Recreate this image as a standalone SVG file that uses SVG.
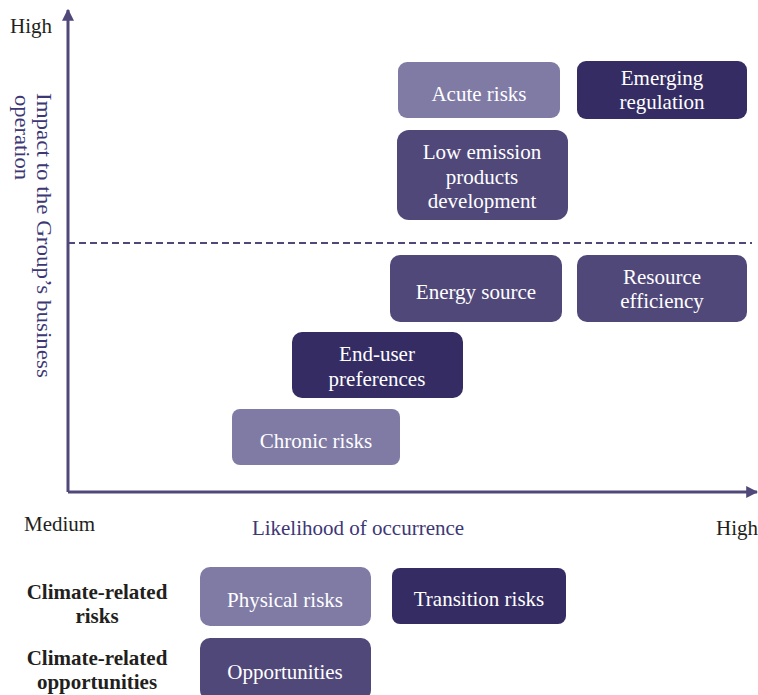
<svg xmlns="http://www.w3.org/2000/svg" width="758" height="695" viewBox="0 0 758 695">
<style>
.t{font-family:'Liberation Serif','Times New Roman',serif;font-size:21px}
.w{fill:#ffffff;text-anchor:middle}
.k{fill:#231f20}
.p{fill:#3d3775}
.b{font-weight:bold;text-anchor:middle;fill:#231f20}
.light{fill:#807ba5}
.mid{fill:#51487a}
.dark{fill:#352c63}
.ax{stroke:#51487a;stroke-width:3;fill:none}
</style>
<defs>
<marker id="ah" viewBox="0 0 10 10" refX="9" refY="5" markerWidth="4" markerHeight="4" orient="auto" markerUnits="strokeWidth">
<path d="M0,0 L10,5 L0,10 z" fill="#51487a"/>
</marker>
</defs>
<g id="connectors">
<path class="ax" d="M68,492 L68,10" marker-end="url(#ah)"/>
<path class="ax" d="M68,492 L757,492" marker-end="url(#ah)"/>
<path d="M68,243 L752,243" stroke="#51487a" stroke-width="2" stroke-dasharray="7,4" fill="none"/>
</g>
<g id="axis-labels">
<text class="t k" x="10" y="33">High</text>
<text class="t k" x="24" y="531">Medium</text>
<text class="t p" x="358" y="535" text-anchor="middle">Likelihood of occurrence</text>
<text class="t k" x="716" y="535">High</text>
<g transform="translate(37,93) rotate(90)">
<text class="t p" x="0" y="0" font-size="20" style="font-size:20px" textLength="285" lengthAdjust="spacingAndGlyphs">Impact to the Group’s business</text>
<text class="t p" x="2" y="22" style="font-size:20px" textLength="85" lengthAdjust="spacingAndGlyphs">operation</text>
</g>
</g>
<g id="acute-risks">
<rect class="light" x="398" y="62" width="162" height="56" rx="9"/>
<text class="t w" x="479" y="101">Acute risks</text>
</g>
<g id="emerging-regulation">
<rect class="dark" x="577" y="61" width="170" height="58" rx="9"/>
<text class="t w" x="662" y="85">Emerging</text>
<text class="t w" x="662" y="109">regulation</text>
</g>
<g id="low-emission">
<rect class="mid" x="397" y="130" width="171" height="90" rx="12"/>
<text class="t w" x="482" y="159">Low emission</text>
<text class="t w" x="482" y="184">products</text>
<text class="t w" x="482" y="208">development</text>
</g>
<g id="energy-source">
<rect class="mid" x="390" y="255" width="172" height="67" rx="10"/>
<text class="t w" x="476" y="299">Energy source</text>
</g>
<g id="resource-efficiency">
<rect class="mid" x="577" y="255" width="170" height="67" rx="10"/>
<text class="t w" x="662" y="284">Resource</text>
<text class="t w" x="662" y="308">efficiency</text>
</g>
<g id="end-user-preferences">
<rect class="dark" x="292" y="332" width="171" height="66" rx="10"/>
<text class="t w" x="377" y="361">End-user</text>
<text class="t w" x="377" y="386">preferences</text>
</g>
<g id="chronic-risks">
<rect class="light" x="232" y="409" width="168" height="56" rx="8"/>
<text class="t w" x="316" y="448">Chronic risks</text>
</g>
<g id="legend-risks">
<text class="t b" x="97" y="599">Climate-related</text>
<text class="t b" x="97" y="623">risks</text>
</g>
<g id="legend-opportunities">
<text class="t b" x="97" y="665">Climate-related</text>
<text class="t b" x="97" y="689">opportunities</text>
</g>
<g id="physical-risks">
<rect class="light" x="200" y="567" width="171" height="59" rx="10"/>
<text class="t w" x="285" y="607">Physical risks</text>
</g>
<g id="transition-risks">
<rect class="dark" x="392" y="568" width="174" height="56" rx="8"/>
<text class="t w" x="479" y="606">Transition risks</text>
</g>
<g id="opportunities">
<rect class="mid" x="200" y="638" width="171" height="62" rx="10"/>
<text class="t w" x="285" y="679">Opportunities</text>
</g>
</svg>
